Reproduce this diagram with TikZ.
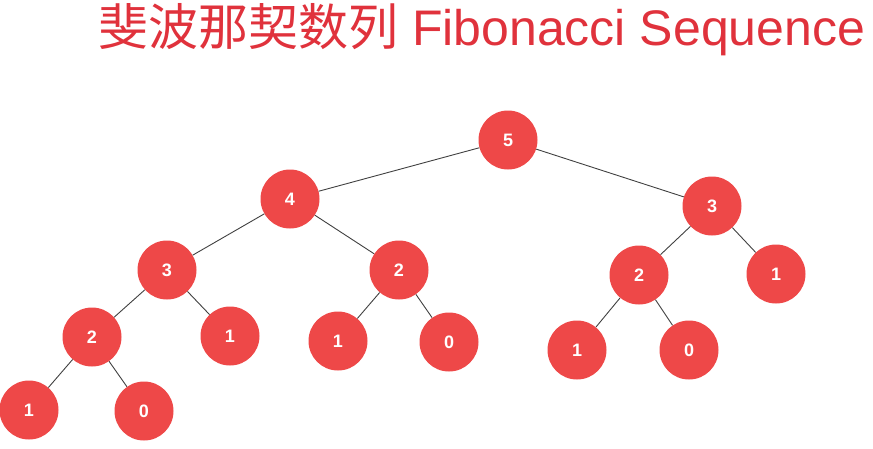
\documentclass[tikz,border=0pt]{standalone}
\usepackage{fontspec}
\setmainfont{Liberation Sans}
\newfontfamily\cjk{Noto Sans CJK SC}
\definecolor{nodered}{HTML}{EE4848}
\definecolor{titlered}{HTML}{E0323C}
\definecolor{edgegray}{HTML}{404040}
\begin{document}
\begin{tikzpicture}[x=1pt,y=-1pt,
  fib/.style={circle,fill=nodered,draw=none,minimum size=59pt,inner sep=0pt,
    text=white,font=\fontsize{18}{18}\selectfont\bfseries},
  edge/.style={draw=edgegray,line width=0.9pt}]
\useasboundingbox (0,0) rectangle (873,448);
\node[anchor=base west,text=titlered,inner sep=0pt,font=\fontsize{50}{50}\selectfont] (title) at (98,45) {{\cjk 斐波那契数列} Fibonacci Sequence};
\node[fib] (n5) at (508,140) {5};
\node[fib] (n4) at (290,199) {4};
\node[fib] (n3r) at (712,206) {3};
\node[fib] (n3l) at (167,270) {3};
\node[fib] (n2m) at (399,270) {2};
\node[fib] (n2r) at (639,275) {2};
\node[fib] (n1r) at (776,274) {1};
\node[fib] (n2l) at (92,337) {2};
\node[fib] (n1a) at (230,336) {1};
\node[fib] (n1b) at (338,341) {1};
\node[fib] (n0b) at (449,342) {0};
\node[fib] (n1c) at (577,350) {1};
\node[fib] (n0c) at (689,350) {0};
\node[fib] (n1d) at (29,410) {1};
\node[fib] (n0d) at (144,411) {0};
\path[edge] (n5) -- (n4);
\path[edge] (n5) -- (n3r);
\path[edge] (n4) -- (n3l);
\path[edge] (n4) -- (n2m);
\path[edge] (n3r) -- (n2r);
\path[edge] (n3r) -- (n1r);
\path[edge] (n3l) -- (n2l);
\path[edge] (n3l) -- (n1a);
\path[edge] (n2m) -- (n1b);
\path[edge] (n2m) -- (n0b);
\path[edge] (n2r) -- (n1c);
\path[edge] (n2r) -- (n0c);
\path[edge] (n2l) -- (n1d);
\path[edge] (n2l) -- (n0d);
\end{tikzpicture}
\end{document}
